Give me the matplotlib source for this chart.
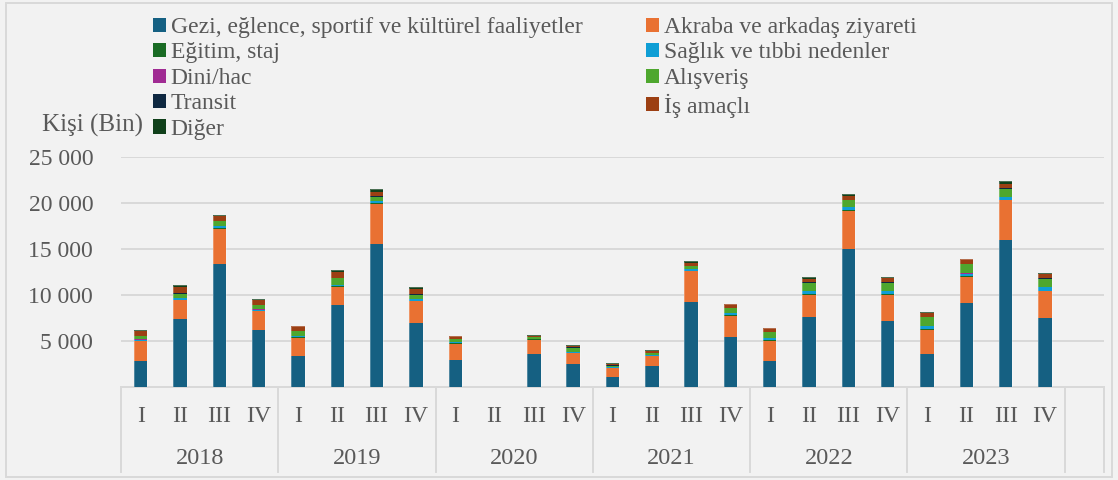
import matplotlib
matplotlib.use("Agg")
import matplotlib.pyplot as plt
from matplotlib.patches import Patch, Rectangle
from matplotlib.lines import Line2D
import numpy as np

plt.rcParams['font.family'] = ['Liberation Serif', 'DejaVu Serif']

years = ["2018", "2019", "2020", "2021", "2022", "2023"]
quarters = ["I", "II", "III", "IV"]

series_names = [
    "Gezi, eğlence, sportif ve kültürel faaliyetler",
    "Akraba ve arkadaş ziyareti",
    "Eğitim, staj",
    "Sağlık ve tıbbi nedenler",
    "Dini/hac",
    "Alışveriş",
    "Transit",
    "İş amaçlı",
    "Diğer",
]
colors = ["#156082", "#E97132", "#196B24", "#0F9ED5", "#A02B93",
          "#4EA72E", "#0E2841", "#9C3F13", "#10401A"]

# values in thousands, per quarter 2018 I ... 2023 IV (2020 II no data)
gezi     = [2.83, 7.36, 13.37, 6.23, 3.37, 8.95, 15.54, 6.99, 2.93, 0, 3.59, 2.50,
            1.05, 2.28, 9.24, 5.43, 2.83, 7.61, 15.00, 7.14, 3.62, 9.13, 16.01, 7.50]
akraba   = [2.13, 2.06, 3.84, 2.00, 1.99, 1.92, 4.39, 2.36, 1.78, 0, 1.55, 1.20,
            1.02, 1.09, 3.37, 2.32, 2.21, 2.43, 4.17, 2.90, 2.58, 2.83, 4.28, 2.90]
egitim   = [0.05, 0.05, 0.08, 0.05, 0.05, 0.08, 0.08, 0.05, 0.04, 0, 0.03, 0.04,
            0.03, 0.03, 0.05, 0.05, 0.05, 0.05, 0.06, 0.06, 0.07, 0.06, 0.07, 0.06]
saglik   = [0.15, 0.17, 0.17, 0.13, 0.15, 0.17, 0.17, 0.13, 0.11, 0, 0.08, 0.10,
            0.07, 0.08, 0.13, 0.24, 0.24, 0.34, 0.30, 0.30, 0.36, 0.30, 0.27, 0.37]
dini     = [0.02, 0.02, 0.03, 0.02, 0.02, 0.02, 0.03, 0.02, 0.02, 0, 0.01, 0.01,
            0.01, 0.01, 0.02, 0.02, 0.02, 0.02, 0.03, 0.02, 0.02, 0.02, 0.02, 0.02]
alisveris = [0.35, 0.50, 0.50, 0.44, 0.47, 0.70, 0.45, 0.50, 0.30, 0, 0.15, 0.43,
             0.14, 0.17, 0.31, 0.50, 0.63, 0.90, 0.77, 0.93, 0.97, 0.98, 0.90, 0.90]
transit  = [0.05, 0.05, 0.05, 0.04, 0.05, 0.06, 0.06, 0.05, 0.03, 0, 0.02, 0.02,
            0.02, 0.02, 0.03, 0.03, 0.04, 0.05, 0.04, 0.04, 0.04, 0.05, 0.04, 0.05]
is_amacli = [0.50, 0.65, 0.50, 0.54, 0.50, 0.63, 0.50, 0.54, 0.28, 0, 0.14, 0.18,
             0.18, 0.25, 0.38, 0.43, 0.36, 0.38, 0.43, 0.43, 0.40, 0.50, 0.50, 0.45]
diger    = [0.10, 0.20, 0.20, 0.15, 0.07, 0.20, 0.30, 0.18, 0.10, 0, 0.05, 0.10,
            0.10, 0.13, 0.13, 0.04, 0.08, 0.15, 0.18, 0.11, 0.11, 0.08, 0.30, 0.15]

series = [gezi, akraba, egitim, saglik, dini, alisveris, transit, is_amacli, diger]

W, H = 1118, 480
fig = plt.figure(figsize=(W / 100, H / 100), dpi=100)
fig.patch.set_facecolor("#F2F2F2")

ax_l, ax_r, ax_b, ax_t = 121, 1104, 387, 157
ax = fig.add_axes([ax_l / W, 1 - ax_b / H, (ax_r - ax_l) / W, (ax_b - ax_t) / H])
ax.set_facecolor("#F2F2F2")

n = len(years) * len(quarters)
x = np.arange(n)
bottom = np.zeros(n)
for vals, c, name in zip(series, colors, series_names):
    v = np.array(vals) * 1000
    ax.bar(x, v, width=0.34, bottom=bottom, color=c,
           edgecolor='none', linewidth=0, label=name, zorder=3)
    bottom += v
# faint light outline around each whole bar
ax.bar(x, bottom, width=0.34, color='none', edgecolor=(1, 1, 1, 0.3),
       linewidth=0.6, zorder=4)

ax.set_xlim(-0.5, n + 0.5)
ax.set_ylim(0, 25000)
ax.set_yticks([5000, 10000, 15000, 20000, 25000])
ax.set_yticklabels([f"{v:,}".replace(",", " ") for v in [5000, 10000, 15000, 20000, 25000]],
                   fontsize=17, color="#595959")
ax.tick_params(axis='y', length=0, pad=20)
ax.set_xticks([])
ax.grid(axis='y', color="#D9D9D9", linewidth=1.4, zorder=0)
for s in ["top", "right", "left"]:
    ax.spines[s].set_visible(False)
ax.spines["bottom"].set_color("#D9D9D9")
ax.spines["bottom"].set_linewidth(1.4)

# hierarchical category axis
trans = ax.get_xaxis_transform()
ph = ax_b - ax_t
yq = -(416 - ax_b) / ph
yy = -(458 - ax_b) / ph
ybot = -(472 - ax_b) / ph
for i in range(n):
    ax.text(x[i], yq, quarters[i % 4], transform=trans, ha='center', va='center',
            fontsize=17, color="#595959")
for j, yr in enumerate(years):
    ax.text(j * 4 + 1.5, yy, yr, transform=trans, ha='center', va='center',
            fontsize=17.5, color="#595959")
for b in list(np.arange(0, n + 1, 4) - 0.5) + [n + 0.5]:
    ax.add_line(Line2D([b, b], [0, ybot], transform=trans, color="#D9D9D9",
                       linewidth=1.4, clip_on=False))

fig.text(42 / W, 1 - 125 / H, "Kişi (Bin)", fontsize=18, color="#595959",
         ha='left', va='center')

# legend (row-wise order like the reference)
handles = [Patch(facecolor=c, edgecolor='none') for c in colors]
order = [0, 2, 4, 6, 8, 1, 3, 5, 7]
leg = fig.legend([handles[i] for i in order], [series_names[i] for i in order],
                 loc='upper left', bbox_to_anchor=(153 / W, 1 - 17 / H), ncol=2,
                 frameon=False, fontsize=17, handlelength=0.55, handleheight=0.55,
                 handletextpad=0.2, columnspacing=2.7, labelspacing=0.19,
                 borderpad=0, borderaxespad=0)
for t in leg.get_texts():
    t.set_color("#595959")

# outer border
fig.add_artist(Rectangle((6 / W, 3 / H), (W - 12) / W, (H - 6) / H,
                         transform=fig.transFigure, fill=False,
                         edgecolor="#D9D9D9", linewidth=1.4))

fig.savefig("out.png", dpi=100, facecolor=fig.get_facecolor())
